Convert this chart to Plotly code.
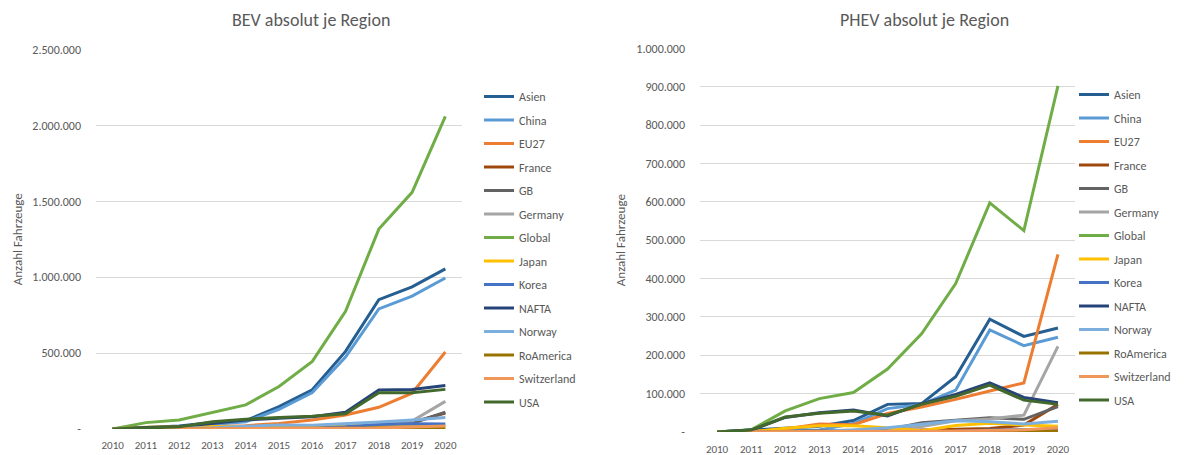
import plotly.graph_objects as go

years = [2010, 2011, 2012, 2013, 2014, 2015, 2016, 2017, 2018, 2019, 2020]
regions = ["Asien", "China", "EU27", "France", "GB", "Germany", "Global", "Japan",
           "Korea", "NAFTA", "Norway", "RoAmerica", "Switzerland", "USA"]
colors = ["#255E91", "#5B9BD5", "#ED7D31", "#9E480E", "#636363", "#A5A5A5", "#70AD47",
          "#FFC000", "#4472C4", "#264478", "#7CAFDD", "#997300", "#F1975A", "#43682B"]

# BEV absolute per region
bev_asien = [0, 9000, 20000, 42000, 55000, 148000, 258000, 511000, 852000, 936000, 1055000]
bev_china = [0, 5000, 12000, 30000, 48000, 130000, 240000, 474000, 791000, 875000, 995000]
bev_eu27 = [0, 3000, 8000, 15000, 22000, 37000, 60000, 92000, 143000, 236000, 507000]
bev_france = [0, 2600, 9000, 9000, 11000, 17000, 22000, 25000, 31000, 43000, 105000]
bev_gb = [0, 1000, 2000, 3000, 7000, 10000, 10000, 14000, 16000, 38000, 110000]
bev_germany = [0, 2000, 3000, 6000, 8000, 12000, 11000, 25000, 36000, 52000, 182000]
bev_global = [0, 42000, 60000, 108000, 159000, 280000, 445000, 775000, 1317000, 1559000, 2059000]
bev_japan = [0, 12000, 15000, 15000, 16000, 10000, 15000, 18000, 26000, 21000, 15000]
bev_korea = [0, 300, 500, 800, 1300, 3000, 5000, 14000, 30000, 35000, 33000]
bev_nafta = [0, 10000, 15000, 40000, 60000, 70000, 80000, 110000, 257000, 260000, 287000]
bev_norway = [0, 2000, 4000, 8000, 18000, 26000, 24000, 33000, 46000, 60000, 75000]
bev_roamerica = [0, 100, 200, 300, 500, 800, 1000, 1500, 2500, 4000, 6000]
bev_switzerland = [0, 300, 900, 1000, 1700, 3300, 3300, 4800, 5800, 13000, 20000]
bev_usa = [0, 9000, 14000, 48000, 64000, 75000, 84000, 101000, 239000, 239000, 261000]

# PHEV absolute per region
phev_asien = [0, 5000, 10000, 15000, 30000, 72000, 74000, 144000, 294000, 249000, 271000]
phev_china = [0, 1000, 3000, 5000, 22000, 61000, 72000, 109000, 266000, 225000, 247000]
phev_eu27 = [0, 1000, 8000, 21000, 19000, 48000, 65000, 85000, 107000, 128000, 463000]
phev_france = [0, 0, 300, 800, 1500, 3000, 5000, 7000, 9000, 18000, 72000]
phev_gb = [0, 0, 1000, 3000, 5000, 6000, 24000, 30000, 37000, 33000, 66000]
phev_germany = [0, 0, 300, 1000, 2000, 3000, 14000, 29000, 34000, 44000, 223000]
phev_global = [0, 6000, 55000, 87000, 103000, 164000, 256000, 387000, 597000, 525000, 902000]
phev_japan = [0, 0, 10000, 16000, 16000, 11000, 3000, 17000, 23000, 18000, 15000]
phev_korea = [0, 0, 0, 300, 500, 1000, 1000, 2000, 5000, 6000, 8000]
phev_nafta = [0, 5000, 38000, 50000, 57000, 42000, 74000, 98000, 128000, 90000, 76000]
phev_norway = [0, 0, 500, 2000, 5000, 11000, 20000, 29000, 27000, 21000, 28000]
phev_roamerica = [0, 0, 100, 200, 300, 500, 800, 1000, 1500, 2000, 3000]
phev_switzerland = [0, 0, 300, 500, 800, 1500, 1700, 2500, 3500, 5800, 11000]
phev_usa = [0, 5000, 39000, 49000, 55000, 44000, 72000, 93000, 122000, 83000, 72000]

bev = [bev_asien, bev_china, bev_eu27, bev_france, bev_gb, bev_germany, bev_global,
       bev_japan, bev_korea, bev_nafta, bev_norway, bev_roamerica, bev_switzerland, bev_usa]
phev = [phev_asien, phev_china, phev_eu27, phev_france, phev_gb, phev_germany, phev_global,
        phev_japan, phev_korea, phev_nafta, phev_norway, phev_roamerica, phev_switzerland, phev_usa]

bev_tickvals = [0, 500000, 1000000, 1500000, 2000000, 2500000]
bev_ticktext = ["-", "500.000", "1.000.000", "1.500.000", "2.000.000", "2.500.000"]
phev_tickvals = [0, 100000, 200000, 300000, 400000, 500000, 600000, 700000, 800000, 900000, 1000000]
phev_ticktext = ["-", "100.000", "200.000", "300.000", "400.000", "500.000", "600.000",
                 "700.000", "800.000", "900.000", "1.000.000"]

FONT = "Calibri, Carlito, Lato, sans-serif"
TXT = "#595959"
OFF = 8  # page body margin
W, H = 1192 - OFF, 455 - OFF


def px(x):
    return (x - OFF) / W


def py(y):
    return 1 - (y - OFF) / H


fig = go.Figure()
for name, col, vals in zip(regions, colors, bev):
    fig.add_trace(go.Scatter(x=years, y=vals, name=name, mode="lines",
                             line=dict(color=col, width=3), xaxis="x", yaxis="y",
                             legend="legend", legendgroup="b_" + name))
for name, col, vals in zip(regions, colors, phev):
    fig.add_trace(go.Scatter(x=years, y=vals, name=name, mode="lines",
                             line=dict(color=col, width=3), xaxis="x2", yaxis="y2",
                             legend="legend2", legendgroup="p_" + name))

axis_common = dict(showline=False, zeroline=False, ticks="", automargin=False)
xcommon = dict(axis_common, tickvals=years, range=[2009.5, 2020.5], showgrid=False,
               tickfont=dict(family=FONT, size=11, color=TXT))
ycommon = dict(axis_common, showgrid=True, gridcolor="#D9D9D9", gridwidth=1,
               ticklabelstandoff=14, tickfont=dict(family=FONT, size=12, color=TXT))

legend_common = dict(font=dict(family=FONT, size=12, color=TXT), tracegroupgap=4.5,
                     bgcolor="rgba(0,0,0,0)", xanchor="left", yanchor="top",
                     itemwidth=30)

ytitle_font = dict(family=FONT, size=13, color=TXT)

fig.update_layout(
    template="none",
    width=W, height=H,
    margin=dict(l=0, r=0, t=0, b=0, autoexpand=False),
    paper_bgcolor="white", plot_bgcolor="white",
    font=dict(family=FONT, color=TXT),
    xaxis=dict(xcommon, domain=[px(96), px(462)], anchor="y", ticklabelstandoff=8),
    yaxis=dict(ycommon, domain=[py(429), py(49.5)], range=[0, 2500000],
               tickvals=bev_tickvals, ticktext=bev_ticktext, anchor="x",
               title=dict(text="Anzahl Fahrzeuge", standoff=6, font=ytitle_font)),
    xaxis2=dict(xcommon, domain=[px(700), px(1075)], anchor="y2", ticklabelstandoff=9),
    yaxis2=dict(ycommon, domain=[py(432), py(48.3)], range=[0, 1000000],
                tickvals=phev_tickvals, ticktext=phev_ticktext, anchor="x2",
                title=dict(text="Anzahl Fahrzeuge", standoff=7, font=ytitle_font)),
    legend=dict(legend_common, x=px(479), y=py(82)),
    legend2=dict(legend_common, x=px(1074), y=py(80)),
    annotations=[
        dict(text="BEV absolut je Region", x=px(311), y=py(20), xref="paper", yref="paper",
             showarrow=False, xanchor="center", yanchor="middle",
             font=dict(family=FONT, size=18, color=TXT)),
        dict(text="PHEV absolut je Region", x=px(924), y=py(20), xref="paper", yref="paper",
             showarrow=False, xanchor="center", yanchor="middle",
             font=dict(family=FONT, size=18, color=TXT)),
    ],
    showlegend=True,
)

fig.write_html("out.html")
